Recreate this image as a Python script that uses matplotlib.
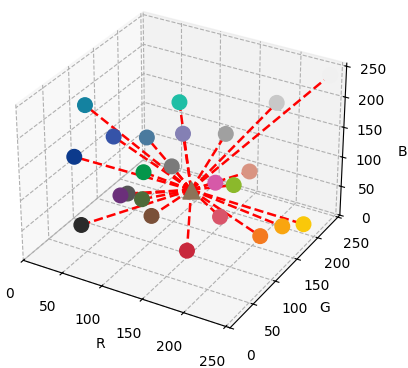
import matplotlib
matplotlib.use('Agg')
import matplotlib.pyplot as plt
from matplotlib.ticker import NullFormatter
import numpy as np

plt.rcParams['grid.linestyle'] = '--'
plt.rcParams['grid.color'] = '#b0b0b0'

# point coordinates in RGB space (0-255)
R = [0, 85, 200, 68, 85, 130, 160, 37, 62, 116, 195, 192, 149, 94, 78, 84, 114, 46, 198, 181, 220, 221, 237, 242]
G = [130, 190, 200, 80, 120, 120, 160, 50, 150, 120, 150, 80, 200, 50, 90, 110, 80, 46, 80, 40, 130, 180, 200, 242]
B = [173, 171, 205, 178, 157, 180, 165, 153, 70, 121, 123, 151, 48, 112, 81, 60, 65, 46, 98, 64, 39, 20, 16, 239]

# colour of every point
colors = ['#1482a0', '#1ebea5', '#c8c8c8', '#3553a8', '#4a7a9e', '#8480b4', '#a0a0a0',
          '#0c3a8c', '#03964a', '#7a7a7a', '#d99482', '#d659a8', '#8bb92b', '#6b2f7a',
          '#555555', '#4e6b3a', '#7a5038', '#2a2a2a', '#d9546a', '#c8283c', '#f47a20',
          '#f9a510', '#fac80a', '#f0f0f0']

# reference colour (triangle)
ref = [143, 115, 96]
ref_color = '#8c7358'

ticks = [0, 50, 100, 150, 200, 250]

fig = plt.figure(figsize=(4.08, 3.68), dpi=100)
ax = fig.add_subplot(111, projection='3d')
ax.set_position([-0.03, 0.046, 0.94, 1.0])

for r, g, b in zip(R, G, B):
    ax.plot([ref[0], r], [ref[1], g], [ref[2], b], 'r--', lw=1.8)

ax.scatter(R, G, B, c=colors, s=110, depthshade=False, alpha=1)
ax.scatter([ref[0]], [ref[1]], [ref[2]], c=ref_color, marker='^', s=150, depthshade=False)

ax.set_xlim(0, 255)
ax.set_ylim(0, 255)
ax.set_zlim(0, 255)
ax.set_xticks(ticks)
ax.set_yticks(ticks)
ax.set_zticks(ticks)
# R tick labels placed by hand (evenly under the ticks)
ax.xaxis.set_major_formatter(NullFormatter())
for t in ticks:
    ax.text(t, -29, -35, str(t), ha='center', va='center', fontsize=10)
ax.tick_params(axis='y', pad=5)
ax.set_xlabel('R', labelpad=5)
ax.set_ylabel('G', labelpad=4)
fig.text(402 / 408, 1 - 152 / 368, 'B', ha='center', va='center', fontsize=10)

fig.savefig('out.png', dpi=100)
